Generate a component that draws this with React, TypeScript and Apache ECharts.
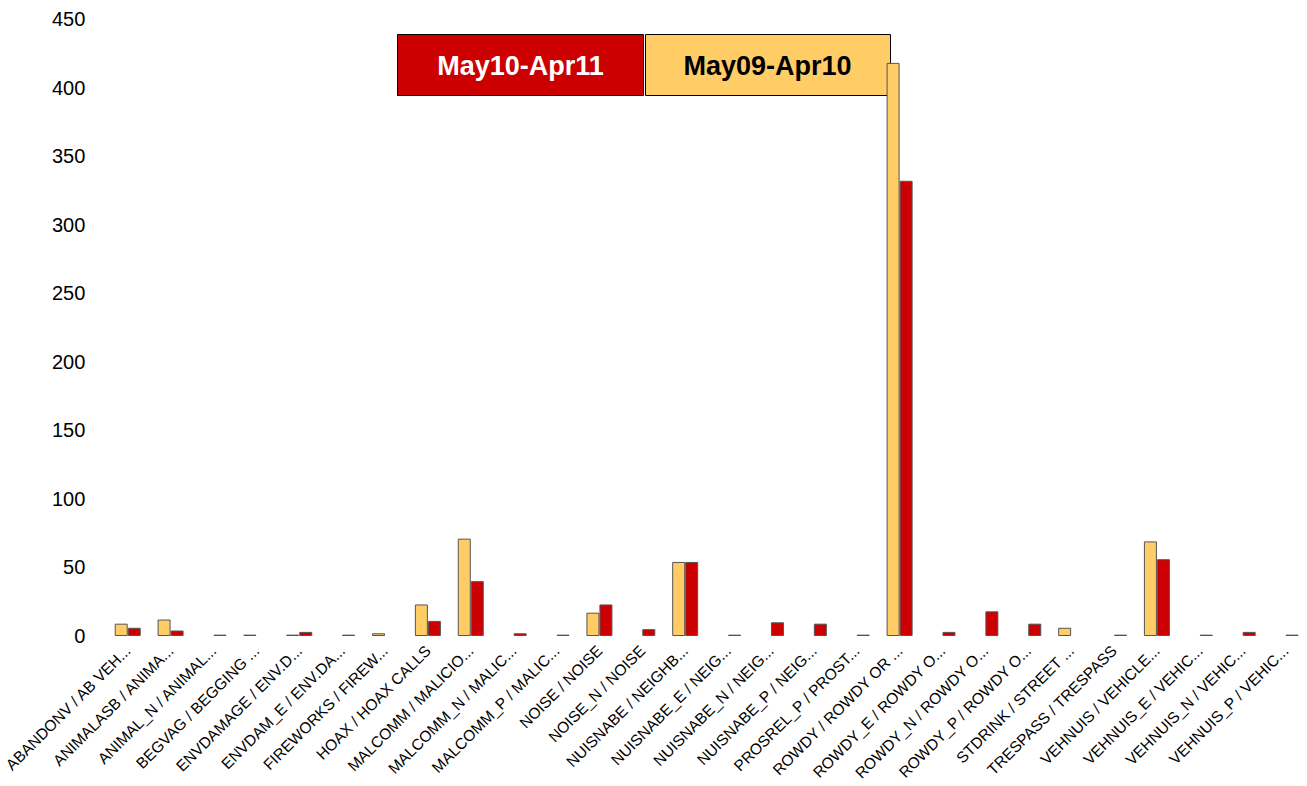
import React, { useEffect, useRef } from "react";
import * as echarts from "echarts";

const categories = [
  "ABANDONV / AB VEH...",
  "ANIMALASB / ANIMA...",
  "ANIMAL_N / ANIMAL...",
  "BEGVAG / BEGGING ...",
  "ENVDAMAGE / ENV.D...",
  "ENVDAM_E / ENV.DA...",
  "FIREWORKS / FIREW...",
  "HOAX / HOAX CALLS",
  "MALCOMM / MALICIO...",
  "MALCOMM_N / MALIC...",
  "MALCOMM_P / MALIC...",
  "NOISE / NOISE",
  "NOISE_N / NOISE",
  "NUISNABE / NEIGHB...",
  "NUISNABE_E / NEIG...",
  "NUISNABE_N / NEIG...",
  "NUISNABE_P / NEIG...",
  "PROSREL_P / PROST...",
  "ROWDY / ROWDY OR ...",
  "ROWDY_E / ROWDY O...",
  "ROWDY_N / ROWDY O...",
  "ROWDY_P / ROWDY O...",
  "STDRINK / STREET ...",
  "TRESPASS / TRESPASS",
  "VEHNUIS / VEHICLE...",
  "VEHNUIS_E / VEHIC...",
  "VEHNUIS_N / VEHIC...",
  "VEHNUIS_P / VEHIC...",
];

const seriesNames = ["May09-Apr10", "May10-Apr11"];

const may09Apr10 = [9, 12, null, 1, 1, null, 2, 23, 71, null, null, 17, null, 54, null, null, null, null, 418, null, null, null, 6, null, 69, null, null, null];
const may10Apr11 = [6, 4, 1, null, 3, 1, null, 11, 40, 2, 1, 23, 5, 54, 1, 10, 9, 1, 332, 3, 18, 9, null, 1, 56, 1, 3, 1];

const yTicks = [0, 50, 100, 150, 200, 250, 300, 350, 400, 450];

const YELLOW = "#FFCC66";
const RED = "#CC0000";

export default function App() {
  const ref = useRef<HTMLDivElement>(null);
  useEffect(() => {
    if (!ref.current) return;
    const chart = echarts.init(ref.current, undefined, { renderer: "svg" });
    const font = "'Liberation Sans', Arial, sans-serif";
    chart.setOption({
      animation: false,
      textStyle: { fontFamily: font },
      grid: { left: 103, right: 0, top: 19, bottom: 150, containLabel: false },
      xAxis: {
        type: "category",
        data: categories,
        axisLine: { show: false },
        axisTick: { show: false },
        axisLabel: {
          interval: 0,
          rotate: 45,
          margin: 12,
          fontSize: 15.5,
          color: "#000",
          fontFamily: font,
        },
      },
      yAxis: {
        type: "value",
        min: yTicks[0],
        max: yTicks[yTicks.length - 1],
        interval: 50,
        axisLine: { show: false },
        axisTick: { show: false },
        splitLine: { show: false },
        axisLabel: { fontSize: 20, color: "#000", margin: 21, fontFamily: font },
      },
      series: [
        {
          name: seriesNames[0],
          type: "bar",
          data: may09Apr10,
          barWidth: 13,
          barGap: "0%",
          itemStyle: { color: YELLOW, borderColor: "#555", borderWidth: 1 },
        },
        {
          name: seriesNames[1],
          type: "bar",
          data: may10Apr11,
          barWidth: 13,
          barGap: "0%",
          itemStyle: { color: RED, borderColor: "#555", borderWidth: 1 },
        },
      ],
      graphic: [
        {
          type: "group",
          left: 397,
          top: 34,
          children: [
            {
              type: "rect",
              shape: { x: 0, y: 0, width: 246, height: 61 },
              style: { fill: RED, stroke: "#000", lineWidth: 1 },
            },
            {
              type: "text",
              x: 123,
              y: 31,
              style: {
                text: seriesNames[1],
                fill: "#fff",
                font: "bold 27px 'Liberation Sans', Arial, sans-serif",
                align: "center",
                verticalAlign: "middle",
              },
            },
            {
              type: "rect",
              shape: { x: 248, y: 0, width: 245, height: 61 },
              style: { fill: YELLOW, stroke: "#000", lineWidth: 1 },
            },
            {
              type: "text",
              x: 370,
              y: 31,
              style: {
                text: seriesNames[0],
                fill: "#000",
                font: "bold 27px 'Liberation Sans', Arial, sans-serif",
                align: "center",
                verticalAlign: "middle",
              },
            },
          ],
        },
      ],
    });
    return () => chart.dispose();
  }, []);
  return (
    <div
      ref={ref}
      style={{ position: "fixed", left: 0, top: 0, width: 1307, height: 786, background: "#fff" }}
    />
  );
}
